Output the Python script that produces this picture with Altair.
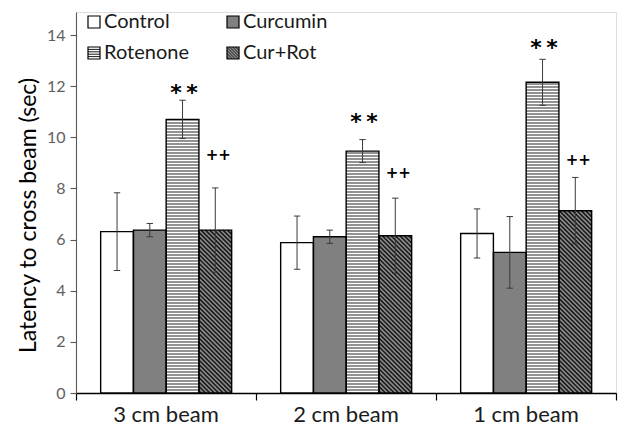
import altair as alt
import pandas as pd

# Beam-walking latency (sec), mean and error per group
beams = ["3 cm beam", "2 cm beam", "1 cm beam"]
groups = ["Control", "Curcumin", "Rotenone", "Cur+Rot"]
control_mean = [6.31, 5.88, 6.24]
curcumin_mean = [6.37, 6.11, 5.50]
rotenone_mean = [10.70, 9.46, 12.15]
currot_mean = [6.37, 6.15, 7.13]
control_err = [1.52, 1.04, 0.96]
curcumin_err = [0.26, 0.26, 1.40]
rotenone_err = [0.75, 0.45, 0.90]
currot_err = [1.65, 1.47, 1.30]
# heights at which the significance marks sit, per beam
star_y = [11.93, 10.79, 13.69]
plus_y = [9.31, 8.60, 9.11]

means = [control_mean, curcumin_mean, rotenone_mean, currot_mean]
errs = [control_err, curcumin_err, rotenone_err, currot_err]

# plot geometry
W, H = 540, 381
YMAX = 14.9
PX_X = W / 3.0
PX_Y = H / YMAX
BAR_W = 32.75 / PX_X
GROUP_OFF = 0.137
CAP = 3.2 / PX_X

fills = {"Control": "#ffffff", "Curcumin": "#808080",
         "Rotenone": "#ffffff", "Cur+Rot": "#8e8e8e"}

rows = []
for gi, g in enumerate(groups):
    for bi, b in enumerate(beams):
        left = bi + GROUP_OFF + gi * BAR_W
        m, e = means[gi][bi], errs[gi][bi]
        rows.append(dict(beam=b, group=g, x0=left, x1=left + BAR_W,
                         xc=left + BAR_W / 2, base=0.0, mean=m,
                         lo=m - e, hi=m + e,
                         c0=left + BAR_W / 2 - CAP, c1=left + BAR_W / 2 + CAP,
                         fill=fills[g]))
bars = pd.DataFrame(rows)

# hatching lines inside the patterned bars
hatch = []
for r in rows:
    if r["group"] == "Rotenone":
        step = 3.0
        y = step
        hpx = r["mean"] * PX_Y
        while y < hpx - 0.5:
            hatch.append(dict(x=r["x0"], x2=r["x1"], y=y / PX_Y, y2=y / PX_Y, kind="h"))
            y += step
    elif r["group"] == "Cur+Rot":
        step = 4.4
        wpx = BAR_W * PX_X
        hpx = r["mean"] * PX_Y
        c = step / 2
        while c < wpx + hpx:
            xs, xe = max(0.0, c - hpx), min(wpx, c)
            if xe > xs:
                hatch.append(dict(x=r["x0"] + xs / PX_X, x2=r["x0"] + xe / PX_X,
                                  y=(c - xs) / PX_Y, y2=(c - xe) / PX_Y, kind="d"))
            c += step
hatch = pd.DataFrame(hatch)

xs = alt.Scale(domain=[0, 3], nice=False, zero=False)
ys = alt.Scale(domain=[0, YMAX], nice=False)

FONT = "Lato"

base = alt.Chart(bars)

fill_layer = base.mark_rect(strokeWidth=0).encode(
    x=alt.X("x0:Q", scale=xs,
            axis=alt.Axis(values=[0, 1, 2, 3], labels=False, title=None, grid=False,
                          tickSize=7, tickColor="#000", domainColor="#000",
                          domainWidth=1.3, tickWidth=1.2)),
    x2="x1:Q",
    y=alt.Y("mean:Q", scale=ys,
            axis=alt.Axis(values=[0, 2, 4, 6, 8, 10, 12, 14], grid=False,
                          title="Latency to cross beam (sec)",
                          titleFont=FONT, titleFontSize=23, titleFontWeight="normal",
                          titleColor="#000", titleX=-48, titleY=203,
                          titleAngle=270, titleBaseline="middle", titleAlign="center",
                          labelFont=FONT, labelFontSize=16, labelColor="#606060",
                          labelPadding=5, tickSize=6, tickColor="#595959",
                          domainColor="#595959", tickWidth=1.1, domainWidth=1.1)),
    y2="base:Q",
    fill=alt.Fill("fill:N", scale=None),
)

hatch_layer = alt.Chart(hatch).mark_rule(clip=True).encode(
    x=alt.X("x:Q", scale=xs), x2="x2:Q",
    y=alt.Y("y:Q", scale=ys), y2="y2:Q",
    color=alt.Color("kind:N", scale=alt.Scale(domain=["h", "d"], range=["#262626", "#1a1a1a"]),
                    legend=None),
    strokeWidth=alt.StrokeWidth("kind:N", scale=alt.Scale(domain=["h", "d"], range=[1.1, 1.6]),
                                legend=None),
)

outline_layer = base.mark_rect(fillOpacity=0, stroke="#000", strokeWidth=1.4).encode(
    x=alt.X("x0:Q", scale=xs), x2="x1:Q",
    y=alt.Y("mean:Q", scale=ys), y2="base:Q",
)

err_v = base.mark_rule(color="#3a3a3a", strokeWidth=1).encode(
    x=alt.X("xc:Q", scale=xs), y=alt.Y("lo:Q", scale=ys), y2="hi:Q")
err_top = base.mark_rule(color="#3a3a3a", strokeWidth=1).encode(
    x=alt.X("c0:Q", scale=xs), x2="c1:Q", y=alt.Y("hi:Q", scale=ys))
err_bot = base.mark_rule(color="#3a3a3a", strokeWidth=1).encode(
    x=alt.X("c0:Q", scale=xs), x2="c1:Q", y=alt.Y("lo:Q", scale=ys))

# significance labels
rot = bars[bars.group == "Rotenone"].reset_index(drop=True)
cr = bars[bars.group == "Cur+Rot"].reset_index(drop=True)
stars = pd.DataFrame([dict(x=rot.xc[i] + 1.5 / PX_X, y=star_y[i], t="*\u2009*") for i in range(3)])
pluses = pd.DataFrame([dict(x=cr.xc[i] + 3 / PX_X, y=plus_y[i], t="++") for i in range(3)])
star_layer = alt.Chart(stars).mark_text(
    font="DejaVu Sans", fontSize=22, fontWeight="bold", color="#000", baseline="middle", dy=5
).encode(x=alt.X("x:Q", scale=xs), y=alt.Y("y:Q", scale=ys), text="t:N")
plus_layer = alt.Chart(pluses).mark_text(
    font="DejaVu Sans", fontSize=15, fontWeight="bold", color="#000", baseline="middle"
).encode(x=alt.X("x:Q", scale=xs), y=alt.Y("y:Q", scale=ys), text="t:N")

# category labels under the axis
cats = pd.DataFrame(dict(x=[i + 0.5 for i in range(3)], t=beams))
cat_layer = alt.Chart(cats).mark_text(
    font=FONT, fontSize=22, color="#1a1a1a", baseline="middle"
).encode(x=alt.X("x:Q", scale=xs), y=alt.value(H + 22), text="t:N")

# legend drawn in pixel space inside the plot
leg_x = [12, 151]
leg_y = [10, 41]
SQ = 12
leg_items = []
for k, g in enumerate(groups):
    lx, ly = leg_x[k % 2], leg_y[k // 2]
    leg_items.append(dict(g=g, x=lx, x2=lx + SQ, y=ly - SQ / 2, y2=ly + SQ / 2,
                          tx=lx + SQ + 4, ty=ly, fill=fills[g]))
leg = pd.DataFrame(leg_items)
leg_lines = []
for it in leg_items:
    if it["g"] == "Rotenone":
        yy = it["y"] + 2.4
        while yy < it["y2"] - 1:
            leg_lines.append(dict(x=it["x"], x2=it["x2"], y=yy, y2=yy))
            yy += 2.4
    elif it["g"] == "Cur+Rot":
        c = 2.5
        while c < 2 * SQ:
            s0, s1 = max(0.0, c - SQ), min(float(SQ), c)
            leg_lines.append(dict(x=it["x"] + s0, x2=it["x"] + s1,
                                  y=it["y"] + s0 + (SQ - c), y2=it["y"] + s1 + (SQ - c)))
            c += 3.0
leg_lines = pd.DataFrame(leg_lines)

leg_fill = alt.Chart(leg).mark_rect(strokeWidth=0).encode(
    x=alt.X("x:Q", scale=None), x2="x2:Q", y=alt.Y("y:Q", scale=None), y2="y2:Q",
    fill=alt.Fill("fill:N", scale=None))
leg_hatch = alt.Chart(leg_lines).mark_rule(color="#1a1a1a", strokeWidth=1).encode(
    x=alt.X("x:Q", scale=None), x2="x2:Q", y=alt.Y("y:Q", scale=None), y2="y2:Q")
leg_box = alt.Chart(leg).mark_rect(fillOpacity=0, stroke="#000", strokeWidth=1.2).encode(
    x=alt.X("x:Q", scale=None), x2="x2:Q", y=alt.Y("y:Q", scale=None), y2="y2:Q")
leg_text = alt.Chart(leg).mark_text(
    font=FONT, fontSize=20, color="#1a1a1a", align="left", baseline="middle"
).encode(x=alt.X("tx:Q", scale=None), y=alt.Y("ty:Q", scale=None), text="g:N")

chart = alt.layer(
    fill_layer, hatch_layer, outline_layer, err_v, err_top, err_bot,
    star_layer, plus_layer, cat_layer,
    leg_fill, leg_hatch, leg_box, leg_text,
).properties(
    width=W, height=H,
    autosize=alt.AutoSizeParams(type="none"),
    padding={"left": 76, "top": 12, "right": 9, "bottom": 44},
).configure_view(stroke=None).configure(background="#ffffff")

chart.save("out.html", embed_options={"renderer": "svg", "actions": False})
